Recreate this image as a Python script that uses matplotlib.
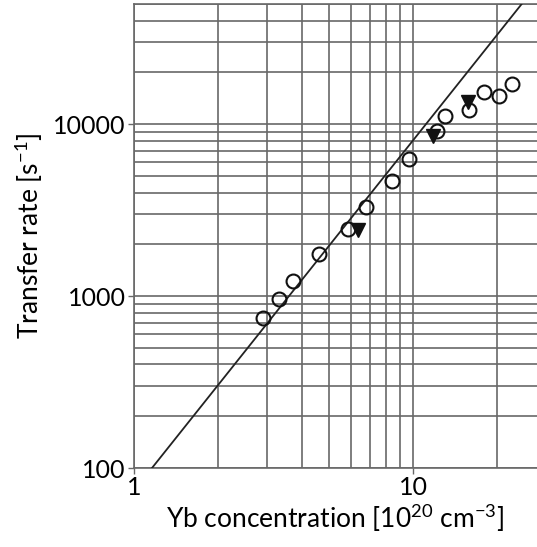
import matplotlib
matplotlib.use("Agg")
import matplotlib.pyplot as plt
from matplotlib.ticker import LogLocator, FixedLocator, NullFormatter

plt.rcParams['font.family'] = ['Lato', 'DejaVu Sans']
plt.rcParams['mathtext.default'] = 'regular'

# open circles
circle_x = [2.91, 3.31, 3.71, 4.62, 5.86, 6.79, 8.39, 9.68, 12.22, 13.02, 15.88, 18.01, 20.33, 22.58]
circle_y = [743, 959, 1226, 1760, 2452, 3319, 4683, 6266, 9155, 11190, 12080, 15290, 14500, 17190]
# filled down-triangles
tri_x = [6.34, 11.82, 15.79]
tri_y = [2428, 8480, 13380]
# fitted line end points
line_x = [1.16, 24.5]
line_y = [100, 50000]

x_ticks = [1, 10]
x_tick_labels = ["1", "10"]
y_ticks = [100, 1000, 10000]
y_tick_labels = ["100", "1000", "10000"]

fig = plt.figure(figsize=(5.37, 5.47), dpi=100)
ax = fig.add_axes([134/537, 1 - 468/547, 1 - 134/537, (468 - 4)/547])
ax.set_xscale('log')
ax.set_yscale('log')
ax.set_xlim(1, 27.8)
ax.set_ylim(100, 50000)

grid_col = '#686868'
ax.xaxis.set_minor_locator(LogLocator(base=10, subs=range(2, 10)))
ax.yaxis.set_minor_locator(LogLocator(base=10, subs=range(2, 10)))
ax.xaxis.set_minor_formatter(NullFormatter())
ax.yaxis.set_minor_formatter(NullFormatter())
ax.grid(True, which='both', color=grid_col, linewidth=1.2)
ax.set_axisbelow(True)

ax.plot(line_x, line_y, color='#222222', linewidth=1.3, zorder=3)
ax.plot(tri_x, tri_y, linestyle='none', marker='v', markersize=9.5,
        markerfacecolor='#111111', markeredgecolor='#111111', zorder=4)
ax.plot(circle_x, circle_y, linestyle='none', marker='o', markersize=10,
        markerfacecolor='none', markeredgecolor='#111111', markeredgewidth=1.5, zorder=5)

ax.xaxis.set_major_locator(FixedLocator(x_ticks))
ax.set_xticklabels(x_tick_labels)
ax.yaxis.set_major_locator(FixedLocator(y_ticks))
ax.set_yticklabels(y_tick_labels)
ax.tick_params(which='minor', length=0)
ax.tick_params(which='major', length=4, width=1, color=grid_col, labelsize=18, pad=2)

for s in ['left', 'bottom', 'top']:
    ax.spines[s].set_color(grid_col)
    ax.spines[s].set_linewidth(1.2)
ax.spines['right'].set_visible(False)

ax.set_xlabel('Yb concentration [10$^{20}$ cm$^{-3}$]', fontsize=19, labelpad=2)
ax.set_ylabel('Transfer rate [s$^{-1}$]', fontsize=19, labelpad=6)

fig.savefig('out.png', dpi=100)
